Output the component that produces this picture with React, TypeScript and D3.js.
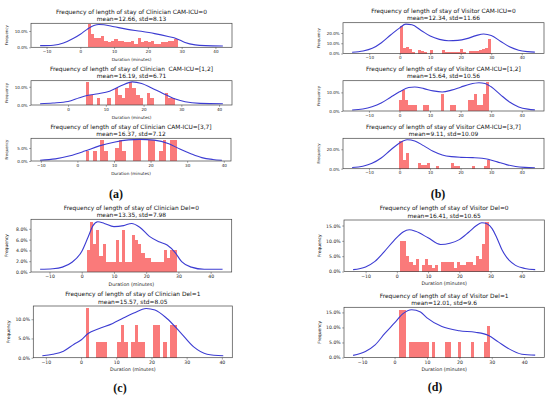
import { useEffect, useRef } from "react";
import * as d3 from "d3";

// titles and stats lines, in panel order a1,a2,a3,b1,b2,b3,c1,c2,d1,d2
const titles = [
  "Frequency of length of stay of Clinician CAM-ICU=0",
  "Frequency of length of stay of Clinician  CAM-ICU=[1,2]",
  "Frequency of length of stay of Clinician CAM-ICU=[3,7]",
  "Frequency of length of stay of Visitor CAM-ICU=0",
  "Frequency of length of stay of Visitor CAM-ICU=[1,2]",
  "Frequency of length of stay of Visitor CAM-ICU=[3,7]",
  "Frequency of length of stay of Clinician Del=0",
  "Frequency of length of stay of Clinician Del=1",
  "Frequency of length of stay of Visitor Del=0",
  "Frequency of length of stay of Visitor Del=1",
];
const stats = [
  "mean=12.66, std=8.13",
  "mean=16.19, std=6.71",
  "mean=16.37, std=7.12",
  "mean=12.34, std=11.66",
  "mean=15.64, std=10.56",
  "mean=9.11, std=10.09",
  "mean=13.35, std=7.98",
  "mean=15.57, std=8.05",
  "mean=16.41, std=10.65",
  "mean=12.01, std=9.6",
];

// histogram: first bin edge and bin width (minutes)
const binStarts = [2.2, 4.7, 2.3, 0.1, 0.0, 0.0, 1.5, 1.3, 1.0, 1.5];
const binWidths = [0.985, 0.95, 1.0, 0.99, 0.98, 0.99, 1.0, 1.0, 1.014, 1.0];

// bar heights in percent
const clinCam0 = [14, 8, 6, 6, 7, 4, 3, 4, 5, 4, 4, 3, 3, 4, 2, 6, 3, 4, 3, 4, 2, 2, 3, 3, 4, 4, 5];
const clinCam12 = [12.7, 5.5, 0, 3.6, 0, 0, 3.6, 0, 9.5, 5.5, 3.6, 9.5, 12.7, 9.5, 5.5, 3.6, 0, 6.4, 3.6, 0, 0, 0, 6.4, 3.6, 3.6];
const clinCam37 = [4, 0, 4, 0, 8.1, 4, 0, 0, 5, 8.1, 4, 0, 0, 8.1, 8.1, 0, 0, 8.1, 8.1, 0, 4, 8.1, 0, 8.1, 8.1];
const visCam0 = [27, 5.5, 6.5, 4.5, 1.5, 0, 3.2, 2.3, 1, 0, 3.9, 0, 0, 0, 3.9, 1.6, 1.6, 1.6, 1.6, 1.6, 4.5, 1.6, 0, 2, 2, 2.5, 3, 4.5, 5.5, 14];
const visCam12 = [6, 11.2, 6, 3, 3, 3, 0, 0, 3, 3, 0, 0, 0, 0, 9, 0, 0, 3, 3, 0, 0, 0, 0, 6, 6, 9, 3, 3, 9, 15.5];
const visCam37 = [29, 8.8, 16.6, 0, 0, 0, 6, 3.7, 3.7, 6, 0, 0, 3, 0, 0, 0, 0, 6, 3, 3, 0, 0, 0, 0, 3, 0, 0, 0, 3, 9];
const clinDel0 = [4.1, 9.3, 5.1, 7.7, 2.9, 5.1, 1.9, 1.9, 1.9, 5.9, 1.9, 7.7, 1.9, 1.9, 6.8, 5.9, 5.1, 3.5, 2.6, 2.6, 1.9, 1.9, 1.9, 1.9, 4.1, 2.6, 4.1, 4.1];
const clinDel1 = [12.8, 0, 0, 4.1, 4.1, 4.1, 0, 0, 0, 4.1, 8.4, 4.1, 0, 4.1, 8.4, 4.1, 4.1, 0, 0, 8.4, 8.4, 0, 4.1, 0, 8.4, 8.4];
const visDel0 = [10, 10, 5, 3, 2, 4, 0, 2, 4, 2, 1, 2, 0, 3, 3, 3, 3, 1, 3, 2, 2, 3, 3, 2, 5, 4, 9, 16];
const visDel1 = [15.9, 15.9, 0, 5.1, 5.1, 5.1, 5.1, 5.1, 5.1, 0, 5.1, 0, 0, 0, 5.1, 5.1, 0, 0, 5.1, 0, 0, 0, 5.1, 0, 0, 0, 5.1, 10.5];

// KDE curves as [minutes, percent]
const kdeClinCam0 = [[-11.9, 1.0], [-8, 1.3], [-5, 2.6], [-2, 5.5], [0, 8.0], [2, 11], [4, 13.3], [5.5, 14.0], [7, 13.8], [10, 12.6], [14, 11.0], [18, 9.8], [22, 8.4], [26, 6.6], [28.5, 5.3], [31, 3.0], [34, 1.5], [37, 1.0], [42.2, 0.8]];
const kdeClinCam12 = [[-7.4, 0.7], [-4, 1.1], [0, 1.9], [3, 4.0], [5, 5.2], [8, 6.2], [11, 7.6], [14, 10.5], [17, 12.7], [19.5, 11.8], [22, 9.5], [25, 6.4], [28, 3.6], [31, 1.8], [35, 0.9], [41, 0.7]];
const kdeClinCam37 = [[-10.2, 0.3], [-6, 0.8], [-2, 2.0], [2, 3.8], [6, 5.8], [10, 7.2], [14, 8.1], [17, 8.3], [21, 8.0], [25, 6.6], [28, 4.6], [31, 2.8], [34, 1.3], [37, 0.6], [39.5, 0.3]];
const kdeVisCam0 = [[-15.6, 1.2], [-12, 2.4], [-9, 5], [-6, 10.5], [-3, 18], [0, 25], [2, 28.6], [4, 28], [7, 22.5], [10, 17], [13, 13.8], [16, 12.4], [19, 12.8], [22, 14.5], [25, 17.4], [27.5, 19], [30, 17.5], [33, 12], [36, 6.5], [39, 3.2], [42, 1.8], [44.3, 1.3]];
const kdeVisCam12 = [[-15.5, 0.5], [-12, 1.1], [-9, 2.3], [-6, 4.3], [-3, 7.3], [0, 10.3], [3, 12.6], [5, 12.9], [8, 12.0], [11, 10.8], [14, 10.2], [17, 11.2], [20, 12.8], [23, 14.4], [26, 15.2], [28, 14.8], [30, 13.0], [33, 8.8], [36, 4.8], [39, 2.2], [42, 1.0], [44.3, 0.6]];
const kdeVisCam37 = [[-15.5, 1.2], [-12, 2.6], [-9, 5.5], [-6, 11], [-3, 19], [0, 26.5], [2.5, 29.8], [5, 28.5], [8, 23.5], [11, 18], [14, 14.2], [17, 12.4], [20, 11.7], [24, 11.4], [27, 10.8], [29, 9.8], [32, 7], [35, 4.2], [38, 2.3], [41, 1.4], [44.3, 1.0]];
const kdeClinDel0 = [[-12.9, 0.5], [-9, 0.6], [-6, 0.9], [-3, 1.8], [0, 3.8], [2, 6.5], [3.5, 8.6], [5, 9.3], [7, 9.0], [10, 8.4], [13, 8.6], [15.5, 9.0], [18, 8.3], [21, 6.6], [24, 5.6], [26.5, 5.0], [29, 3.6], [31, 1.9], [34, 0.9], [38, 0.5], [43.7, 0.5]];
const kdeClinDel1 = [[-11, 0.5], [-8, 0.9], [-5, 1.7], [-2, 3.5], [0, 4.6], [2, 6.3], [5, 7.5], [9, 8.9], [12, 10.3], [15, 11.6], [18.5, 12.8], [21, 12.4], [24.4, 10.2], [28, 6.8], [32, 2.8], [35.8, 0.9], [40.4, 0.5]];
const kdeVisDel0 = [[-14, 0.6], [-10, 1.5], [-7, 3.3], [-4, 6.5], [-1, 10.0], [2, 12.9], [4, 13.6], [6, 13.1], [10, 11.0], [14, 8.8], [17, 9.2], [20, 10.4], [23, 12.8], [25.5, 15.0], [27.2, 15.9], [29, 15.5], [30.5, 14.0], [32, 11], [33.7, 7], [36, 3.6], [38, 2.0], [41, 1.0], [44.3, 0.6]];
const kdeVisDel1 = [[-12.8, 0.7], [-9, 2.0], [-6, 4.2], [-3, 8], [0, 11.5], [2.5, 14.5], [5.3, 15.9], [8, 15.1], [10, 13.2], [14.6, 10.3], [20, 8.9], [24.9, 8.4], [29, 7.3], [32, 5.2], [35.1, 3.0], [39.3, 1.1], [43.4, 0.8]];

const barSets = [clinCam0, clinCam12, clinCam37, visCam0, visCam12, visCam37, clinDel0, clinDel1, visDel0, visDel1];
const kdeSets = [kdeClinCam0, kdeClinCam12, kdeClinCam37, kdeVisCam0, kdeVisCam12, kdeVisCam37, kdeClinDel0, kdeClinDel1, kdeVisDel0, kdeVisDel1];

const xTickValues = [-10, 0, 10, 20, 30, 40];
const yTickSets = [
  [0, 10], [0, 10], [0, 5],
  [0, 10, 20], [0, 10], [0, 20],
  [0, 2, 4, 6, 8], [0, 5, 10],
  [0, 5, 10, 15], [0, 5, 10, 15],
];
const panelLabels = ["(a)", "(b)", "(c)", "(d)"];

// layout: [left, top, right, bottom], xlabel shown, font scale group
const boxes: [number, number, number, number][] = [
  [31, 23.3, 232, 47.3],
  [31, 80.7, 232, 105],
  [31, 138.3, 231, 161],
  [343, 22.7, 544, 53.5],
  [343, 80.7, 544, 111],
  [343, 138.3, 544, 168.7],
  [31, 219.3, 231.7, 272],
  [33.3, 306, 232.3, 357.7],
  [344, 220, 544.3, 271.5],
  [344, 307.3, 544.3, 357.5],
];
const showXLabel = [true, true, true, false, false, false, true, true, true, true];
const bigFont = [false, false, false, false, false, false, true, true, true, true];
const labelPos: [number, number][] = [[116, 198], [438, 198], [120, 392], [435, 391]];

const FONT = "DejaVu Sans";

const App = () => {
  const svgRef = useRef<SVGSVGElement | null>(null);

  useEffect(() => {
    const svg = d3.select(svgRef.current);
    svg.selectAll("*").remove();
    svg.append("rect").attr("width", 550).attr("height", 397).attr("fill", "#fff");

    boxes.forEach(([L, T, R, B], i) => {
      const bars = barSets[i];
      const kde = kdeSets[i];
      const tickFs = bigFont[i] ? 4.6 : 4.1;
      const labelFs = bigFont[i] ? 4.8 : 4.2;

      const [k0, k1] = d3.extent(kde, (d) => d[0]) as [number, number];
      const pad = (k1 - k0) * 0.05;
      const x = d3.scaleLinear().domain([k0 - pad, k1 + pad]).range([L, R]);
      const yMax = (d3.max([...bars, ...kde.map((d) => d[1])]) || 1) * 1.05;
      const y = d3.scaleLinear().domain([0, yMax]).range([B, T]);

      const g = svg.append("g");

      g.selectAll("rect.bar")
        .data(bars.map((v, j) => ({ v, j })).filter((d) => d.v > 0))
        .enter()
        .append("rect")
        .attr("class", "bar")
        .attr("x", (d) => x(binStarts[i] + d.j * binWidths[i]))
        .attr("width", x(binWidths[i]) - x(0))
        .attr("y", (d) => y(d.v))
        .attr("height", (d) => B - y(d.v))
        .attr("fill", "#fa7a7a")
        .attr("shape-rendering", "crispEdges");

      const line = d3
        .line<number[]>()
        .x((d) => x(d[0]))
        .y((d) => y(d[1]))
        .curve(d3.curveMonotoneX);
      g.append("path")
        .attr("d", line(kde))
        .attr("fill", "none")
        .attr("stroke", "#3c3cd2")
        .attr("stroke-width", 1.1);

      g.append("rect")
        .attr("x", L)
        .attr("y", T)
        .attr("width", R - L)
        .attr("height", B - T)
        .attr("fill", "none")
        .attr("stroke", "#444")
        .attr("stroke-width", 0.7);

      const [d0, d1] = x.domain();
      const xAxis = d3
        .axisBottom(x)
        .tickValues(xTickValues.filter((t) => t >= d0 && t <= d1))
        .tickSize(1.8)
        .tickPadding(1)
        .tickFormat(d3.format("d"));
      const gx = g.append("g").attr("transform", `translate(0,${B})`).call(xAxis);
      gx.select(".domain").remove();
      gx.selectAll("line").attr("stroke", "#444").attr("stroke-width", 0.5);
      gx.selectAll("text").attr("font-size", tickFs).attr("font-family", FONT).attr("fill", "#222");

      const yAxis = d3
        .axisLeft(y)
        .tickValues(yTickSets[i])
        .tickSize(1.8)
        .tickPadding(1.5)
        .tickFormat((d) => `${(+d).toFixed(1)}%`);
      const gy = g.append("g").attr("transform", `translate(${L},0)`).call(yAxis);
      gy.select(".domain").remove();
      gy.selectAll("line").attr("stroke", "#444").attr("stroke-width", 0.5);
      gy.selectAll("text").attr("font-size", tickFs).attr("font-family", FONT).attr("fill", "#222");

      g.append("text")
        .attr("transform", `translate(${L - 23},${(T + B) / 2}) rotate(-90)`)
        .attr("text-anchor", "middle")
        .attr("font-size", labelFs * 0.92)
        .attr("font-family", FONT)
        .attr("fill", "#222")
        .text("Frequency");

      if (showXLabel[i]) {
        g.append("text")
          .attr("x", (L + R) / 2)
          .attr("y", B + 13.5)
          .attr("text-anchor", "middle")
          .attr("font-size", labelFs)
          .attr("font-family", FONT)
          .attr("fill", "#222")
          .text("Duration (minutes)");
      }

      const cx = (L + R) / 2;
      g.append("text")
        .attr("x", cx)
        .attr("y", T - 9.8)
        .attr("text-anchor", "middle")
        .attr("font-size", 5.9)
        .attr("font-family", FONT)
        .attr("fill", "#111")
        .style("white-space", "pre")
        .text(titles[i]);
      g.append("text")
        .attr("x", cx)
        .attr("y", T - 2.5)
        .attr("text-anchor", "middle")
        .attr("font-size", 5.9)
        .attr("font-family", FONT)
        .attr("fill", "#111")
        .text(stats[i]);
    });

    svg
      .selectAll("text.plabel")
      .data(panelLabels)
      .enter()
      .append("text")
      .attr("class", "plabel")
      .attr("x", (_, i) => labelPos[i][0])
      .attr("y", (_, i) => labelPos[i][1])
      .attr("text-anchor", "middle")
      .attr("font-size", 12)
      .attr("font-family", "Liberation Serif")
      .attr("font-weight", "bold")
      .attr("fill", "#111")
      .text((d) => d);
  }, []);

  return (
    <div>
      <svg
        ref={svgRef}
        width={550}
        height={397}
        style={{ position: "absolute", left: 0, top: 0 }}
      />
    </div>
  );
};

export default App;
